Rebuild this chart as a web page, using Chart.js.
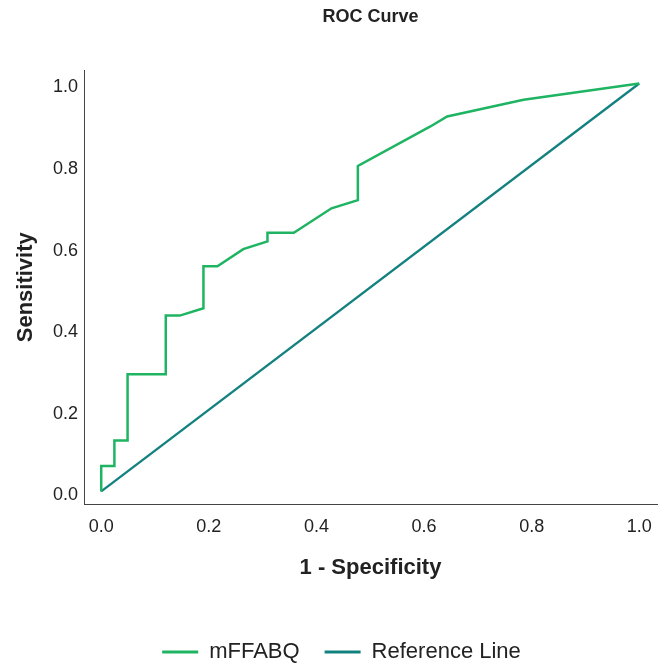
<!DOCTYPE html>
<html>
<head>
<meta charset="utf-8">
<script src="https://cdn.jsdelivr.net/npm/chart.js@4/dist/chart.umd.min.js"></script>
<style>
  html, body { margin: 0; padding: 0; background: #fff; }
  #wrap { width: 667px; height: 664px; }
</style>
</head>
<body>
<div id="wrap"><canvas id="roc"></canvas></div>
<script>
// ROC curve points for mFFABQ (1 - specificity, sensitivity)
const fprValues = [0, 0, 0.0245, 0.0245, 0.049, 0.049, 0.12, 0.12, 0.146, 0.19, 0.19, 0.216, 0.264, 0.309, 0.309, 0.358, 0.428, 0.477, 0.477, 0.611, 0.643, 0.785, 1];
const tprValues = [0, 0.0625, 0.0625, 0.125, 0.125, 0.2875, 0.2875, 0.431, 0.431, 0.449, 0.552, 0.552, 0.594, 0.613, 0.634, 0.634, 0.694, 0.714, 0.798, 0.894, 0.919, 0.96, 1];

// Chance diagonal
const refX = [0, 1];
const refY = [0, 1];

const seriesNames = ['mFFABQ', 'Reference Line'];
const tickValues = [0, 0.2, 0.4, 0.6, 0.8, 1.0];

const GREEN = '#1eb462';
const TEAL = '#13817f';
const TEXT = '#222222';
const FONT = "'Liberation Sans', Arial, Helvetica, sans-serif";

const toPoints = (xs, ys) => xs.map((x, i) => ({ x, y: ys[i] }));

const axisCommon = {
  type: 'linear',
  min: -0.032,
  max: 1.033,
  grid: { display: false, drawTicks: false },
  border: { display: true, color: '#444', width: 1 },
  afterBuildTicks: (scale) => { scale.ticks = tickValues.map(v => ({ value: v })); },
};

new Chart(document.getElementById('roc'), {
  type: 'scatter',
  data: {
    datasets: [
      {
        label: seriesNames[0],
        data: toPoints(fprValues, tprValues),
        showLine: true,
        borderColor: GREEN,
        backgroundColor: GREEN,
        borderWidth: 2.5,
        pointRadius: 0,
        tension: 0,
        fill: false,
      },
      {
        label: seriesNames[1],
        data: toPoints(refX, refY),
        showLine: true,
        borderColor: TEAL,
        backgroundColor: TEAL,
        borderWidth: 2.3,
        pointRadius: 0,
        fill: false,
      },
    ],
  },
  options: {
    responsive: true,
    maintainAspectRatio: false,
    animation: false,
    // left inset keeps the bottom legend centred a little right of the canvas middle
    layout: { padding: { left: 26, right: 10, top: 0, bottom: 0 } },
    plugins: {
      title: {
        display: true,
        text: 'ROC Curve',
        fullSize: false,
        color: TEXT,
        font: { family: FONT, size: 18, weight: 'bold', lineHeight: 1.2 },
        padding: { top: 6.5, bottom: 41.9 },
      },
      legend: {
        display: true,
        position: 'bottom',
        maxHeight: 48,
        labels: {
          color: TEXT,
          font: { family: FONT, size: 22 },
          boxWidth: 36,
          boxHeight: 3,
          padding: 25,
          generateLabels: (chart) => chart.data.datasets.map((ds, i) => ({
            text: ds.label,
            fillStyle: ds.borderColor,
            strokeStyle: ds.borderColor,
            lineWidth: 0,
            hidden: false,
            datasetIndex: i,
            fontColor: TEXT,
          })),
        },
      },
      tooltip: { enabled: false },
    },
    scales: {
      x: Object.assign({}, axisCommon, {
        position: 'bottom',
        afterFit: (scale) => { scale.height = 111.5; },
        ticks: {
          color: TEXT,
          padding: 12,
          font: { family: FONT, size: 18 },
          callback: (v) => Number(v).toFixed(1),
        },
        title: {
          display: true,
          text: '1 - Specificity',
          color: TEXT,
          font: { family: FONT, size: 22, weight: 'bold', lineHeight: 1.2 },
          padding: { top: 0, bottom: 35 },
        },
      }),
      y: Object.assign({}, axisCommon, {
        position: 'left',
        afterFit: (scale) => { scale.width = 58; },
        ticks: {
          color: TEXT,
          padding: 6,
          labelOffset: 4,
          font: { family: FONT, size: 18 },
          callback: (v) => Number(v).toFixed(1),
        },
        title: {
          display: true,
          text: 'Sensitivity',
          color: TEXT,
          font: { family: FONT, size: 22, weight: 'bold', lineHeight: 1.2 },
          padding: { top: -13, bottom: 0 },
        },
      }),
    },
  },
});
</script>
</body>
</html>
